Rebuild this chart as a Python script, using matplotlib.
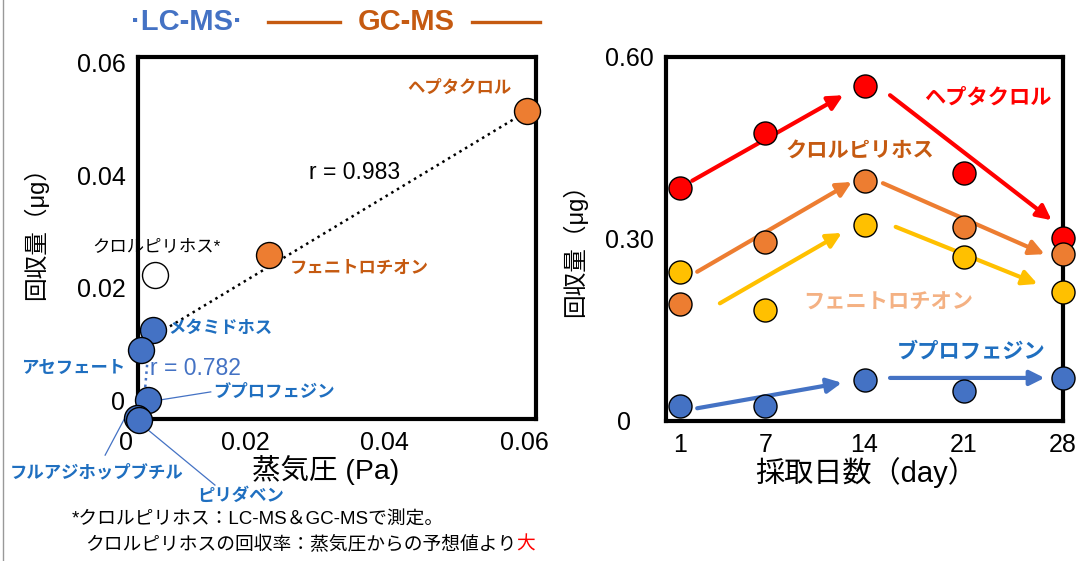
import numpy as np
import matplotlib
matplotlib.use('Agg')
import matplotlib.pyplot as plt
from matplotlib.lines import Line2D

plt.rcParams['font.family'] = ['Liberation Sans', 'Noto Sans CJK JP']

# left: vapour pressure (Pa) vs recovered amount (ug)
vp_names = ['ヘプタクロル', 'フェニトロチオン', 'クロルピリホス*', 'メタミドホス',
            'アセフェート', 'ブプロフェジン', 'フルアジホップブチル', 'ピリダベン']
vp_pa = [0.0603, 0.0234, 0.0072, 0.0069, 0.0051, 0.0061, 0.0046, 0.0048]
vp_ug = [0.0513, 0.0258, 0.0223, 0.0126, 0.0090, 0.0002, -0.0030, -0.0034]
vp_kind = ['gc', 'gc', 'both', 'lc', 'lc', 'lc', 'lc', 'lc']

# fitted lines
gc_fit = (0.0044, 0.0603, 0.746, 0.0063)   # x start, x end, slope, intercept
lc_fit_x = (0.0060, 0.0057)
lc_fit_y = (0.0064, 0.0019)

# right: recovered amount by sampling day
days = [1, 7, 14, 21, 28]
heptachlor = [0.384, 0.475, 0.552, 0.409, 0.302]
chlorpyrifos = [0.193, 0.295, 0.396, 0.320, 0.275]
fenitrothion = [0.246, 0.183, 0.323, 0.270, 0.213]
buprofezin = [0.025, 0.025, 0.068, 0.049, 0.071]

# trend arrows (day0, value0, day1, value1)
heptachlor_arrows = [(1.85, 0.396, 12.5, 0.537), (15.8, 0.537, 27.2, 0.331)]
chlorpyrifos_arrows = [(2.2, 0.246, 13.1, 0.394), (15.3, 0.392, 26.7, 0.275)]
fenitrothion_arrows = [(3.8, 0.194, 12.4, 0.310), (16.2, 0.320, 26.2, 0.226)]
buprofezin_arrows = [(2.2, 0.021, 12.4, 0.063), (15.8, 0.071, 26.7, 0.071)]

BLUE = '#4472C4'
LBLUE = '#1F6FC0'
ORANGE = '#ED7D31'
DORANGE = '#C55A11'
YELLOW = '#FFC000'
RED = '#FF0000'

fig = plt.figure(figsize=(10.83, 5.61), dpi=100)
ax1 = fig.add_axes([138/1083, 1-419/561, 398/1083, 362/561])
ax2 = fig.add_axes([666/1083, 1-421/561, 397/1083, 364/561])

for ax in (ax1, ax2):
    for s in ax.spines.values():
        s.set_linewidth(3)

# ---- left panel
ax1.set_xlim(0.0047, 0.0616)
ax1.set_ylim(-0.0032, 0.0609)

x = np.array([gc_fit[0], gc_fit[1]])
ax1.plot(x, gc_fit[2]*x + gc_fit[3], ls=':', color='black', lw=1.8, zorder=3, clip_on=False)
ax1.plot(lc_fit_x, lc_fit_y, ls=':', color=BLUE, lw=1.8, zorder=3, clip_on=False)

fill = {'gc': ORANGE, 'both': 'white', 'lc': BLUE}
for i in range(len(vp_pa)):
    ax1.scatter(vp_pa[i], vp_ug[i], s=350, color=fill[vp_kind[i]], edgecolor='black',
                linewidth=1, zorder=5, clip_on=False)

lab = dict(fontsize=12.5, fontweight='bold', va='center', clip_on=False)
ax1.text(0.0507, 0.0554, 'ヘプタクロル', color=DORANGE, ha='center', **lab)
ax1.text(0.0264, 0.0235, 'フェニトロチオン', color=DORANGE, ha='left', **lab)
ax1.text(0.0073, 0.0273, 'クロルピリホス*', color='black', ha='center', fontsize=12.5, va='center')
ax1.text(0.0090, 0.0129, 'メタミドホス', color=LBLUE, ha='left', **lab)
ax1.text(0.0029, 0.0058, 'アセフェート', color=LBLUE, ha='right', **lab)
ax1.text(0.0154, 0.0016, 'ブプロフェジン', color=LBLUE, ha='left', **lab)
ax1.text(-0.0136, -0.0126, 'フルアジホップブチル', color=LBLUE, ha='left', **lab)
ax1.text(0.0131, -0.0168, 'ピリダベン', color=LBLUE, ha='left', **lab)
ax1.text(0.0357, 0.0405, 'r = 0.983', color='black', ha='center', va='center', fontsize=16.5)
ax1.text(0.0064, 0.0058, 'r = 0.782', color=BLUE, ha='left', va='center', fontsize=16.5)

# leader lines to the crowded labels
leaders = [((0.0080, 0.0151), (0.0002, 0.0016)),
           ((0.0000, 0.0036), (-0.0096, -0.0012)),
           ((0.0061, 0.0157), (-0.0051, -0.0149))]
for lx, ly in leaders:
    ax1.plot(lx, ly, color=BLUE, lw=0.9, clip_on=False, zorder=4)

ax1.set_xticks([0.02, 0.04, 0.06], ['0.02', '0.04', '0.06'])
ax1.set_yticks([0, 0.02, 0.04, 0.06], ['0', '0.02', '0.04', '0.06'])
ax1.set_xticks([0.02, 0.04], minor=True)
ax1.set_yticks([0.02, 0.04], minor=True)
ax1.tick_params(which='major', length=0, labelsize=18, pad=9)
ax1.tick_params(which='minor', direction='in', length=11, width=3)
ax1.tick_params(axis='x', which='minor', length=15)
ax1.text(-0.03, -0.066, '0', transform=ax1.transAxes, fontsize=18, ha='center', va='center')

ax1.set_xlabel('蒸気圧 (Pa)', fontsize=20.5)
ax1.xaxis.set_label_coords(0.472, -0.1)
ax1.set_ylabel('回収量（μg）', fontsize=17)
ax1.yaxis.set_label_coords(-0.225, 0.528)

# ---- right panel
ax2.set_xlim(0, 28)
ax2.set_ylim(0, 0.6)

series = [(heptachlor, RED, heptachlor_arrows),
          (chlorpyrifos, ORANGE, chlorpyrifos_arrows),
          (fenitrothion, YELLOW, fenitrothion_arrows),
          (buprofezin, BLUE, buprofezin_arrows)]
for vals, c, arrows in series:
    for x0, y0, x1, y1 in arrows:
        ax2.annotate('', xy=(x1, y1), xytext=(x0, y0),
                     arrowprops=dict(arrowstyle='-|>', color=c, lw=3, mutation_scale=22,
                                     shrinkA=0, shrinkB=0), zorder=3)
    ax2.scatter(days, vals, s=275, color=c, edgecolor='black', linewidth=1, zorder=5, clip_on=False)

lab2 = dict(fontsize=15.3, fontweight='bold', ha='center', va='center')
ax2.text(22.7, 0.534, 'ヘプタクロル', color=RED, **lab2)
ax2.text(13.7, 0.443, 'クロルピリホス', color=DORANGE, **lab2)
ax2.text(15.7, 0.194, 'フェニトロチオン', color='#F4B183', **lab2)
ax2.text(21.5, 0.114, 'ブプロフェジン', color=LBLUE, **lab2)

ax2.set_xticks(days, [str(d) for d in days])
ax2.set_yticks([0, 0.3, 0.6], ['0', '0.30', '0.60'])
ax2.set_xticks([7, 14, 21], minor=True)
ax2.set_yticks([0.3], minor=True)
ax2.tick_params(which='major', length=0, labelsize=18, pad=9)
ax2.tick_params(axis='x', which='minor', direction='in', length=16, width=3)
ax2.tick_params(axis='y', which='minor', direction='in', length=13, width=3)
ax2.yaxis.get_major_ticks()[0].set_pad(25)

ax2.set_xlabel('採取日数（day）', fontsize=21)
ax2.xaxis.set_label_coords(0.504, -0.1)
ax2.set_ylabel('回収量（μg）', fontsize=17)
ax2.yaxis.set_label_coords(-0.2, 0.484)

# ---- header and footnote
fig.text(187/1083, 1-22/561, '·LC-MS·', color=BLUE, fontsize=21, fontweight='bold',
         ha='center', va='center')
fig.text(406/1083, 1-22/561, 'GC-MS', color=DORANGE, fontsize=21, fontweight='bold',
         ha='center', va='center')
for xa, xb in [(268, 340), (472, 540)]:
    fig.add_artist(Line2D([xa/1083, xb/1083], [1-22/561, 1-22/561], color=DORANGE, lw=2.4))

fig.text(72/1083, 1-520/561, '*クロルピリホス：LC-MS＆GC-MSで測定。', fontsize=13.5,
         ha='left', va='center')
note = fig.text(85/1083, 1-545/561, 'クロルピリホスの回収率：蒸気圧からの予想値より', fontsize=13.5,
                ha='left', va='center')
fig.canvas.draw()
bb = note.get_window_extent()
fig.text(bb.x1/fig.bbox.width, 1-545/561, '大', color=RED, fontsize=13.5, ha='left', va='center')

fig.add_artist(Line2D([2.5/1083, 2.5/1083], [0, 1], color='#999999', lw=1))

fig.savefig('out.png', dpi=100)
